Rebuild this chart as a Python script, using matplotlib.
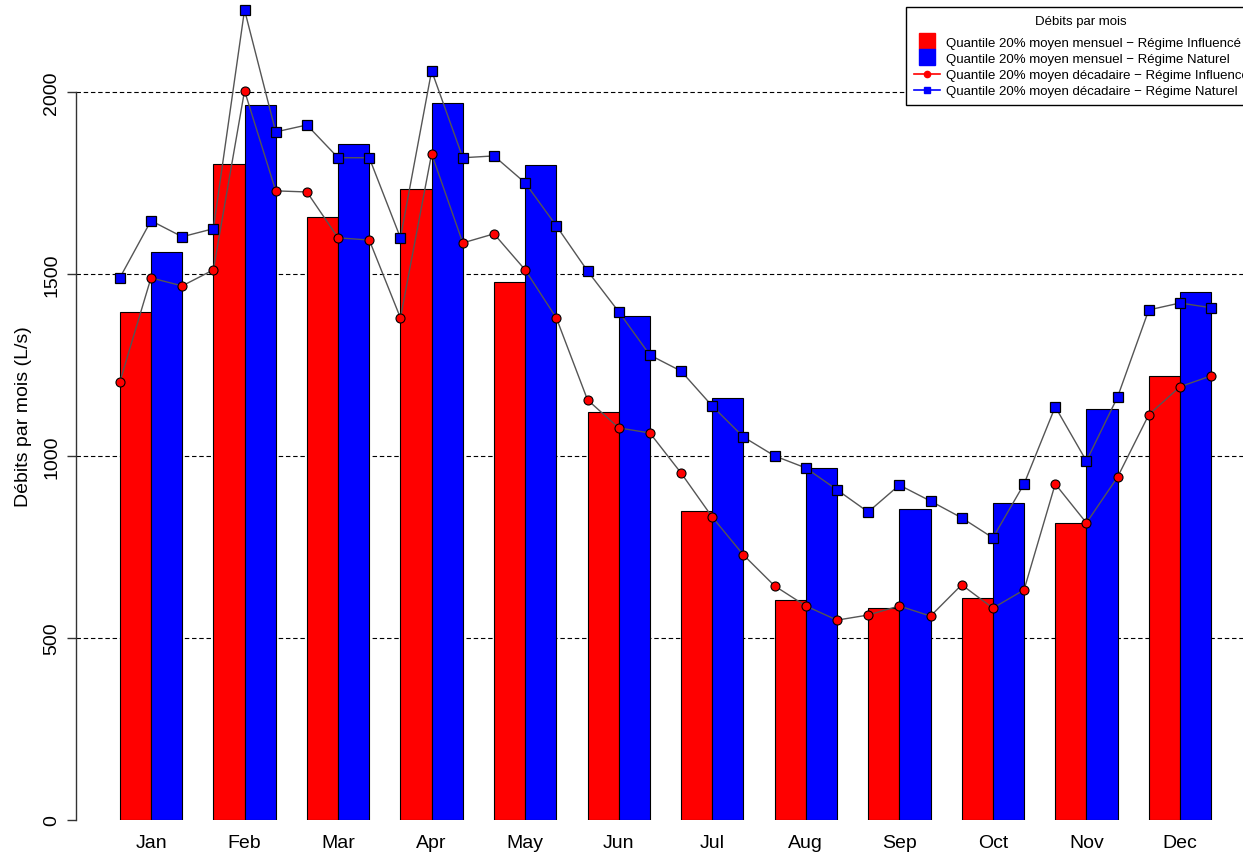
import numpy as np
import matplotlib.pyplot as plt
from matplotlib.lines import Line2D

plt.rcParams['font.family'] = ['Liberation Sans', 'DejaVu Sans']

months = ['Jan', 'Feb', 'Mar', 'Apr', 'May', 'Jun', 'Jul', 'Aug', 'Sep', 'Oct', 'Nov', 'Dec']

# Quantile 20% moyen mensuel
q20_mens_influ = [1395, 1801, 1655, 1732, 1478, 1122, 849, 605, 583, 610, 816, 1220]
q20_mens_nat = [1560, 1964, 1857, 1970, 1800, 1385, 1159, 967, 854, 871, 1129, 1451]

# Quantile 20% moyen decadaire (3 per month)
q20_dec_influ = [1203, 1489, 1467, 1511, 2003, 1728, 1725, 1599, 1593,
                 1379, 1830, 1585, 1610, 1511, 1379, 1154, 1077, 1063,
                 953, 832, 728, 643, 588, 549, 563, 588, 560,
                 646, 582, 632, 923, 816, 942, 1113, 1190, 1220]
q20_dec_nat = [1489, 1646, 1602, 1624, 2225, 1890, 1909, 1819, 1819,
               1599, 2058, 1819, 1824, 1750, 1632, 1508, 1396, 1277,
               1233, 1137, 1052, 1000, 967, 907, 846, 920, 876,
               830, 775, 923, 1135, 986, 1162, 1401, 1420, 1407]

W, H = 1243, 853
fig = plt.figure(figsize=(W / 100, H / 100), dpi=100)
ax = fig.add_axes([76 / W, (H - 821) / H, 1 - 76 / W, 821 / H])

x = np.arange(12)
xd = (x[:, None] + np.array([-1, 0, 1])[None, :] / 3).ravel()

for g in [500, 1000, 1500, 2000]:
    ax.axhline(g, color='black', lw=0.8, ls=(0, (4, 2.5)), zorder=0)

ax.bar(x - 1 / 6, q20_mens_influ, width=1 / 3, color='#ff0000', edgecolor='black', lw=0.8, zorder=2)
ax.bar(x + 1 / 6, q20_mens_nat, width=1 / 3, color='#0000ff', edgecolor='black', lw=0.8, zorder=2)

ax.plot(xd, q20_dec_influ, color='#555555', lw=1, marker='o', ms=6.5,
        mfc='#ff0000', mec='black', mew=0.8, zorder=3, clip_on=False)
ax.plot(xd, q20_dec_nat, color='#555555', lw=1, marker='s', ms=7,
        mfc='#0000ff', mec='black', mew=0.9, zorder=3, clip_on=False)

ax.set_xlim(-0.8018, 11.674)
ax.set_ylim(0, 2255)
ax.set_xticks(x)
ax.set_xticklabels(months, fontsize=14)
ax.tick_params(axis='x', length=0, pad=10)
ax.set_yticks([0, 500, 1000, 1500, 2000])
ax.set_yticklabels(['0', '500', '1000', '1500', '2000'], rotation=90, va='center', fontsize=14)
ax.tick_params(axis='y', length=6.5, width=1, color='#333333', pad=5)
for s in ['top', 'right', 'bottom']:
    ax.spines[s].set_visible(False)
ax.spines['left'].set_bounds(0, 2000)
ax.spines['left'].set_color('#333333')
ax.spines['left'].set_linewidth(1)
ax.set_ylabel('Débits par mois (L/s)', fontsize=14)
ax.yaxis.set_label_coords(-0.038, 0.493)

handles = [
    Line2D([], [], ls='none', marker='s', ms=11, mfc='#ff0000', mec='#ff0000'),
    Line2D([], [], ls='none', marker='s', ms=11, mfc='#0000ff', mec='#0000ff'),
    Line2D([], [], color='#ff0000', lw=1.2, marker='o', ms=4.5, mfc='#ff0000', mec='#ff0000'),
    Line2D([], [], color='#0000ff', lw=1.2, marker='s', ms=4.5, mfc='#0000ff', mec='#0000ff'),
]
labels = ['Quantile 20% moyen mensuel \u2212 Régime Influencé',
          'Quantile 20% moyen mensuel \u2212 Régime Naturel',
          'Quantile 20% moyen décadaire \u2212 Régime Influencé',
          'Quantile 20% moyen décadaire \u2212 Régime Naturel']
leg = fig.legend(handles, labels, title='Débits par mois', loc='upper left',
                 bbox_to_anchor=(906 / W, 1 - 8 / H), borderaxespad=0,
                 fontsize=9.5, title_fontsize=9.5, fancybox=False, framealpha=1,
                 edgecolor='black', handlelength=2.0, handletextpad=0.4,
                 labelspacing=0.3, borderpad=0.6)
leg.get_frame().set_linewidth(1)
# extra room between title and entries
leg._legend_box.sep = 7

fig.savefig('out.png', dpi=100)
